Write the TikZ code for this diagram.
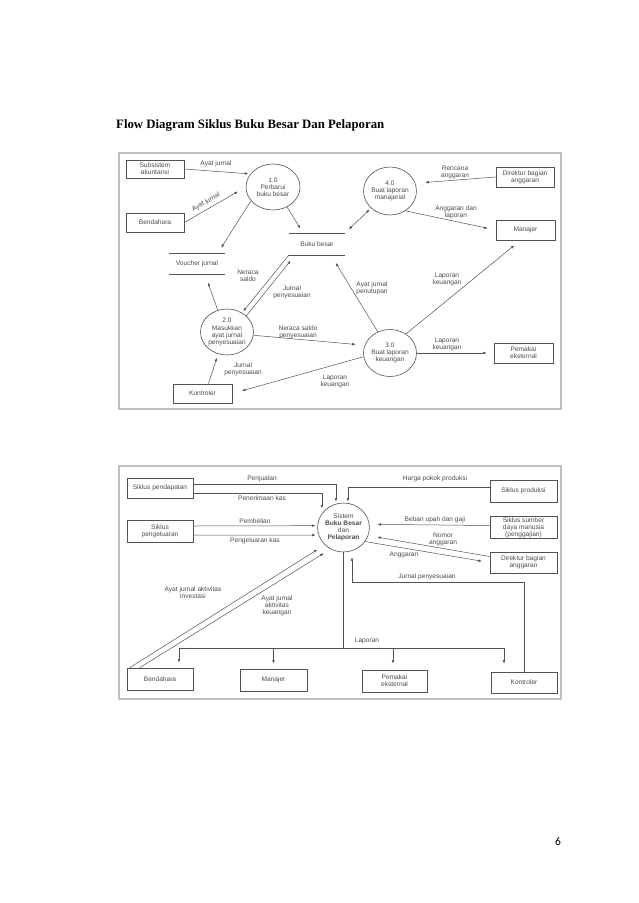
\documentclass[tikz,border=0pt]{standalone}
\usepackage{fontspec}
\setmainfont{Liberation Sans}
\newfontfamily\titlefont{Liberation Serif}
\newfontfamily\numfont{Carlito}
\usetikzlibrary{shapes.geometric,arrows.meta,calc}
\definecolor{linec}{gray}{0.32}
\definecolor{textc}{gray}{0.3}
\definecolor{framec}{gray}{0.75}
\begin{document}
\begin{tikzpicture}[x=1pt,y=-1pt,
  every node/.style={font=\fontsize{6.6}{7.1}\selectfont, text=textc},
  box/.style={draw=linec, line width=0.6pt, inner sep=0pt, align=center},
  proc/.style={ellipse, draw=linec, line width=0.6pt, inner sep=0pt, align=center},
  store/.style={inner sep=0pt, minimum width=56pt, minimum height=21pt},
  lbl/.style={align=center, inner sep=0pt},
  flow/.style={draw=linec, line width=0.5pt, -{Latex[length=3.5pt,width=2.6pt]}},
  both/.style={draw=linec, line width=0.5pt, {Latex[length=3.5pt,width=2.6pt]}-{Latex[length=3.5pt,width=2.6pt]}},
  plain/.style={draw=linec, line width=0.5pt},
  frame/.style={draw=framec, line width=1.3pt}]
\fill[white] (0,0) rectangle (638,903);
\useasboundingbox (0,0) rectangle (638,903);

% title and page number
\node[anchor=base west, inner sep=0pt, text=black, font=\titlefont\bfseries\fontsize{12.8}{14}\selectfont] (title) at (116,128.5) {Flow Diagram Siklus Buku Besar Dan Pelaporan};
\node[inner sep=0pt, text=black, font=\numfont\fontsize{11.5}{13}\selectfont] (pnum) at (558,842) {6};

% ================= TOP DIAGRAM =================
\draw[frame] (119,153) rectangle (561,409);

\node[box, minimum width=58pt, minimum height=18pt] (sub) at (155,169) {Subsistem\\akuntansi};
\node[box, minimum width=58pt, minimum height=19pt] (bend1) at (155,222.5) {Bendahara};
\node[proc, minimum width=54pt, minimum height=46pt] (c1) at (273,187) {1.0\\Perbarui\\buku besar};
\node[store] (vj) at (197,263.5) {Voucher jurnal};
\node[store, minimum height=22pt] (bb) at (317,244) {Buku besar};
\node[proc, minimum width=50pt, minimum height=48pt] (c4) at (390,191) {4.0\\Buat laporan\\manajerial};
\node[box, minimum width=58pt, minimum height=20pt] (dir1) at (525,177) {Direktur bagian\\anggaran};
\node[box, minimum width=59pt, minimum height=20pt] (man1) at (525.5,230) {Manajer};
\node[proc, minimum width=53pt, minimum height=47pt] (c3) at (390,353) {3.0\\Buat laporan\\keuangan};
\node[box, minimum width=59pt, minimum height=20pt] (pem1) at (523.5,353) {Pemakai\\eksternal};
\node[proc, minimum width=53pt, minimum height=46pt] (c2) at (227,332) {2.0\\Masukkan\\ayat jurnal\\penyesuaian};
\node[box, minimum width=59pt, minimum height=19pt] (kon1) at (202.5,393.5) {Kontroler};

% store lines
\draw[plain] (vj.north west) -- (vj.north east);
\draw[plain] (vj.south west) -- (vj.south east);
\draw[plain] (bb.north west) -- (bb.north east);
\draw[plain] (bb.south west) -- (bb.south east);

% connectors
\draw[flow, shorten >=2pt] (sub.east) -- (c1.150);
\draw[flow, shorten >=9pt] (bend1.east) -- (c1.west);
\draw[flow, shorten >=6pt] (c1.212) -- ([xshift=21pt]vj.north);
\draw[flow, shorten >=5pt] (c1.-55) -- ([xshift=-14pt]bb.north);
\draw[both, shorten >=2pt, shorten <=5pt] (bb.north east) -- (c4.222);
\draw[flow, shorten >=10pt] (dir1.west) -- (c4.17);
\draw[flow, shorten >=8pt] (c4.-52) -- (man1.west);
\draw[flow, shorten >=8pt] (c3.50) -- ([xshift=-5pt]man1.south);
\draw[flow, shorten >=9pt] (c3.120) -- ([xshift=14pt]bb.south);
\draw[flow, shorten >=7pt] (c3.east) -- (pem1.west);
\draw[flow, shorten >=9pt] (c2.-7) -- (c3.163);
\draw[flow, shorten >=10pt] (c3.188) -- (kon1.east);
\draw[flow, shorten >=9pt] (c2.113) -- ([xshift=8pt]vj.south);
\draw[flow, shorten >=4pt] ([xshift=6pt]kon1.north) -- (c2.-112);
\draw[flow, shorten >=2pt] (bb.south west) -- (c2.52);
\draw[flow, shorten >=7pt] (c2.40) -- ([xshift=-22pt]bb.south);

% labels
\node[lbl] (l1) at (216,164) {Ayat jurnal};
\node[lbl, rotate=30] (l2) at (206,202) {Ayat jurnal};
\node[lbl] (l3) at (455,172) {Rencana\\anggaran};
\node[lbl] (l4) at (456,212) {Anggaran dan\\laporan};
\node[lbl] (l5) at (248,276) {Neraca\\saldo};
\node[lbl] (l6) at (292,292) {Jurnal\\penyesuaian};
\node[lbl] (l7) at (372,288) {Ayat jurnal\\penutupan};
\node[lbl] (l8) at (447,279) {Laporan\\keuangan};
\node[lbl] (l9) at (298,332) {Neraca saldo\\penyesuaian};
\node[lbl] (l10) at (447,344) {Laporan\\keuangan};
\node[lbl] (l11) at (243,369) {Jurnal\\penyesuaian};
\node[lbl] (l12) at (335,381) {Laporan\\keuangan};

% ================= BOTTOM DIAGRAM =================
\draw[frame] (119,466) rectangle (561,699);

\node[box, minimum width=66pt, minimum height=20pt] (sp) at (160,488) {Siklus pendapatan};
\node[box, minimum width=66pt, minimum height=22pt] (spg) at (160,531) {Siklus\\pengeluaran};
\node[proc, minimum width=49pt, minimum height=49pt] (sys) at (343.5,527.5) {Sistem\\\textbf{Buku Besar}\\dan\\\textbf{Pelaporan}};
\node[box, minimum width=67pt, minimum height=22pt] (sprod) at (523.5,491) {Siklus produksi};
\node[box, minimum width=67pt, minimum height=22.5pt] (ssdm) at (523.5,527.5) {Siklus sumber\\daya manusia\\(penggajian)};
\node[box, minimum width=67pt, minimum height=21pt] (dir2) at (523.5,562.5) {Direktur bagian\\anggaran};
\node[box, minimum width=66pt, minimum height=22pt] (bend2) at (160,679) {Bendahara};
\node[box, minimum width=67pt, minimum height=22pt] (man2) at (273.5,680) {Manajer};
\node[box, minimum width=65pt, minimum height=22pt] (pem2) at (394.5,681) {Pemakai\\eksternal};
\node[box, minimum width=66pt, minimum height=21pt] (kon2) at (524,682.5) {Kontroler};

% connectors
\draw[flow, shorten >=1pt] ([yshift=4pt]sp.east) -| ([xshift=-7.5pt]sys.north);
\draw[flow, shorten >=5pt] ([yshift=-5pt]sp.east) -| (sys.147);
\draw[flow, shorten >=1pt] ([yshift=4pt]sprod.west) -| ([xshift=4.5pt]sys.north);
\draw[flow, shorten >=2pt] ([yshift=5pt]spg.east) -- (sys.176);
\draw[flow, shorten >=3pt] ([yshift=-4pt]spg.east) -- (sys.197);
\draw[flow, shorten >=8pt] ([yshift=2pt]ssdm.west) -- (sys.7);
\draw[flow, shorten >=9pt] (dir2.170) -- (sys.-18);
\draw[flow, shorten >=8pt] (sys.-33) -- (dir2.west);
\draw[flow, shorten >=5pt] (kon2.north) |- ($(sys.south)+(8.5,30)$) -- ($(sys.south)+(8.5,0)$);
\draw[flow, shorten >=9pt] ([xshift=3pt]bend2.north west) -- (sys.223);
\draw[flow, shorten >=8pt] ([xshift=13pt]bend2.north west) -- (sys.239);

\coordinate (bus) at ($(sys.south)+(0,96)$);
\draw[plain] (sys.south) -- (bus);
\draw[flow, shorten >=5pt] (bus) -| ([xshift=19pt]bend2.north);
\draw[flow, shorten >=5pt] (bus) -| (man2.north);
\draw[flow, shorten >=6pt] (bus) -| ([xshift=-1.5pt]pem2.north);
\draw[flow, shorten >=8pt] (bus) -| ([xshift=-20pt]kon2.north);

% labels
\node[lbl] (m1) at (262,479) {Penjualan};
\node[lbl] (m2) at (262,498) {Penerimaan kas};
\node[lbl] (m3) at (255,521) {Pembelian};
\node[lbl] (m4) at (255,541) {Pengeluaran kas};
\node[lbl] (m5) at (435,479) {Harga pokok produksi};
\node[lbl] (m6) at (435,520) {Beban upah dan gaji};
\node[lbl] (m7) at (443,539) {Nomor\\anggaran};
\node[lbl] (m8) at (404,555) {Anggaran};
\node[lbl] (m9) at (427,577) {Jurnal penyesuaian};
\node[lbl] (m10) at (193,593) {Ayat jurnal aktivitas\\investasi};
\node[lbl] (m11) at (277,606) {Ayat jurnal\\aktivitas\\keuangan};
\node[lbl] (m12) at (367,641) {Laporan};
\end{tikzpicture}
\end{document}
